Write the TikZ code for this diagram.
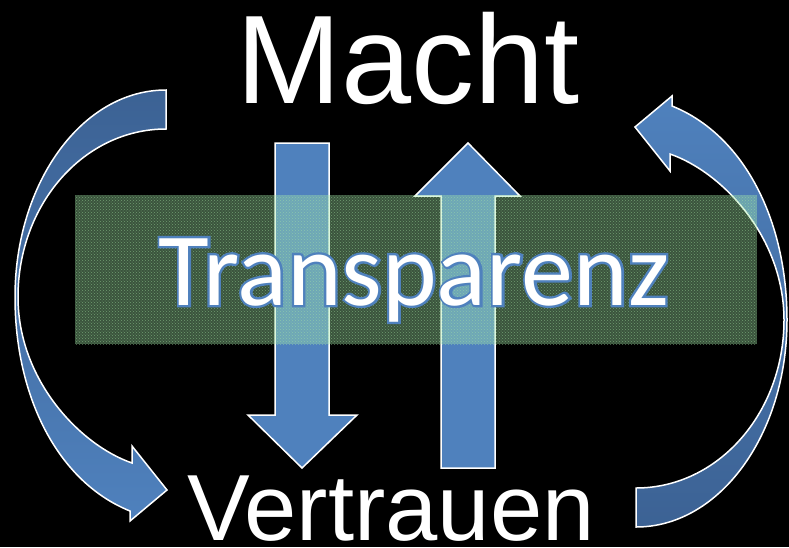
\documentclass[tikz,border=0pt]{standalone}
\usepackage{fontspec}
\setmainfont{Liberation Sans}
\newfontfamily\carlitoOutline[RawFeature={embolden=4.5}]{Carlito}
\newfontfamily\carlito{Carlito}
\usetikzlibrary{patterns}
\definecolor{arrowblue}{RGB}{79,129,189}
\definecolor{arrowdark}{RGB}{60,98,148}
\definecolor{boxgreen}{RGB}{165,235,170}
\definecolor{dotgreen}{RGB}{165,230,165}
\tikzset{
  straightarrow/.style={fill=arrowblue, draw=white, line width=1.5pt, line join=miter},
  curvedarrow/.style={draw=white, line width=1.5pt, line join=miter},
  bigword/.style={anchor=base, inner sep=0pt, text=white},
}
\begin{document}
\begin{tikzpicture}[x=1pt,y=-1pt]
\fill[black] (0,0) rectangle (789,547);
\useasboundingbox (0,0) rectangle (789,547);

% curved arrow left (Macht -> Vertrauen)
\path[curvedarrow, top color=arrowdark, bottom color=arrowblue]
  (166,90) .. controls (82,90) and (15,183) .. (15,297)
  .. controls (15,397) and (58,482) .. (130,511)
  -- (130,521) -- (167,490) -- (132,446) -- (132,463)
  .. controls (80,445) and (18,380) .. (18,297)
  .. controls (18,204) and (84,129) .. (166,129) -- cycle;

% curved arrow right (Vertrauen -> Macht)
\path[curvedarrow, top color=arrowblue, bottom color=arrowdark]
  (636,527) .. controls (720,527) and (787,434) .. (787,320)
  .. controls (787,220) and (744,135) .. (672,106)
  -- (672,96) -- (635,127) -- (670,171) -- (670,154)
  .. controls (722,172) and (784,237) .. (784,320)
  .. controls (784,413) and (718,488) .. (636,488) -- cycle;

% straight down arrow
\draw[straightarrow] (275,143) -- (329,143) -- (329,415) -- (357,415)
  -- (302,468) -- (248,415) -- (275,415) -- cycle;
% straight up arrow
\draw[straightarrow] (441,468) -- (495,468) -- (495,196) -- (520,196)
  -- (468,143) -- (415,196) -- (441,196) -- cycle;

% transparent box
\fill[boxgreen, fill opacity=0.36] (75,195) rectangle (757,344);
\fill[pattern=crosshatch dots, pattern color=dotgreen, fill opacity=0.5] (75,195) rectangle (757,344);

% texts
\node[bigword, font=\fontsize{126}{130}\selectfont] (macht) at (408,103) {Macht};
\node[bigword, font=\fontsize{94}{100}\selectfont] (vertrauen) at (391,540) {Vertrauen};
\node[bigword, text=arrowblue, font=\carlitoOutline\fontsize{104}{110}\selectfont] (transparenzrand) at (414,305)
  {\special{pdf:code 0.310 0.506 0.741 RG}Transparenz};
\node[bigword, font=\carlito\fontsize{104}{110}\selectfont] (transparenz) at (transparenzrand.base)
  {Transparenz};
\end{tikzpicture}
\end{document}
